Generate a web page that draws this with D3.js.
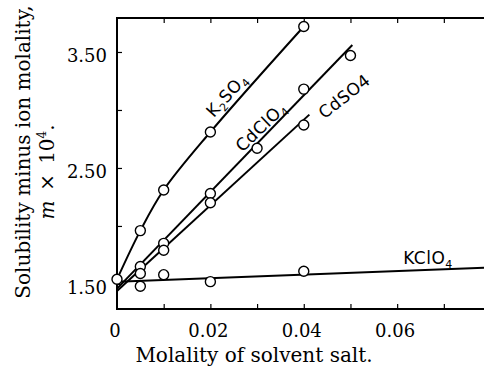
<!DOCTYPE html>
<html><head><meta charset="utf-8">
<script src="https://cdn.jsdelivr.net/npm/d3@7"></script>
<style>body{margin:0;background:#fff}svg{display:block}</style>
</head><body>
<svg id="c" width="484" height="367"></svg>
<script>
// Data
const xTicks = [0, 0.01, 0.02, 0.03, 0.04, 0.05, 0.06, 0.07];
const xTickLabels = ["0", "", "0.02", "", "0.04", "", "0.06", ""];
const yTicks = [1.5, 2.0, 2.5, 3.0, 3.5];
const yTickLabels = ["1.50", "", "2.50", "", "3.50"];

const k2so4X = [0, 0.005, 0.01, 0.02, 0.04];
const k2so4Y = [1.54, 1.96, 2.31, 2.81, 3.72];

const cdclo4X = [0.005, 0.01, 0.02, 0.03, 0.04, 0.05];
const cdclo4Y = [1.65, 1.85, 2.28, 2.67, 3.18, 3.47];
const cdclo4LineX = [0, 0.0504];
const cdclo4LineY = [1.46, 3.56];

const cdso4X = [0.005, 0.01, 0.02, 0.04];
const cdso4Y = [1.59, 1.79, 2.20, 2.87];
const cdso4LineX = [0, 0.0412];
const cdso4LineY = [1.44, 2.96];

const kclo4X = [0.005, 0.01, 0.02, 0.04];
const kclo4Y = [1.48, 1.58, 1.52, 1.61];
const kclo4LineX = [0, 0.0786];
const kclo4LineY = [1.52, 1.64];

const svg = d3.select("#c");
const x = d3.scaleLinear().domain([0, 0.0786]).range([117, 484]);
const y = d3.scaleLinear().domain([1.284, 3.793]).range([309, 18]);

const serif = "DejaVu Serif";
const sans = "DejaVu Sans";

// frame
const g = svg.append("g").attr("stroke", "#000").attr("stroke-width", 2).attr("fill", "none");
g.append("line").attr("x1", x(0) - 1).attr("x2", 484).attr("y1", y.range()[1]).attr("y2", y.range()[1]);
g.append("line").attr("x1", x(0) - 1).attr("x2", 484).attr("y1", y.range()[0]).attr("y2", y.range()[0]);
g.append("line").attr("x1", x(0)).attr("x2", x(0)).attr("y1", y.range()[0]).attr("y2", y.range()[1]);

// x ticks (inward, bottom and top)
const xb = svg.append("g").attr("transform", `translate(0,${y.range()[0]})`)
  .call(d3.axisBottom(x).tickValues(xTicks.slice(1)).tickSizeInner(-5).tickSizeOuter(0).tickFormat(""));
xb.select(".domain").remove();
xb.selectAll("line").attr("stroke-width", 1.2);
const xt = svg.append("g").attr("transform", `translate(0,${y.range()[1]})`)
  .call(d3.axisTop(x).tickValues(xTicks.slice(1)).tickSizeInner(-5).tickSizeOuter(0).tickFormat(""));
xt.select(".domain").remove();
xt.selectAll("line").attr("stroke-width", 1.2);

// x tick labels
svg.append("g").selectAll("text").data(xTicks.map((v, i) => [v, xTickLabels[i]]).filter(d => d[1]))
  .join("text").attr("x", d => x(d[0]) - 2).attr("y", 337)
  .attr("text-anchor", "middle").attr("font-family", serif).attr("font-size", 18)
  .text(d => d[1]);

// y ticks (inward)
const yl = svg.append("g").attr("transform", `translate(${x(0)},0)`)
  .call(d3.axisLeft(y).tickValues(yTicks).tickSizeInner(-5).tickSizeOuter(0).tickFormat(""));
yl.select(".domain").remove();
yl.selectAll("line").attr("stroke-width", 1.2);

svg.append("g").selectAll("text").data(yTicks.map((v, i) => [v, yTickLabels[i]]).filter(d => d[1]))
  .join("text").attr("x", 107).attr("y", d => y(d[0]) + 4).attr("dy", "0.35em")
  .attr("text-anchor", "end").attr("font-family", serif).attr("font-size", 18)
  .text(d => d[1]);

// axis titles
svg.append("text").attr("x", 254).attr("y", 362).attr("text-anchor", "middle")
  .attr("font-family", serif).attr("font-size", 20).text("Molality of solvent salt.");
svg.append("text").attr("transform", "translate(30,152) rotate(-90)").attr("text-anchor", "middle")
  .attr("font-family", serif).attr("font-size", 20).text("Solubility minus ion molality,");
const t2 = svg.append("text").attr("transform", "translate(54,172) rotate(-90)").attr("text-anchor", "middle")
  .attr("font-family", serif).attr("font-size", 20);
t2.append("tspan").attr("font-style", "italic").text("m");
t2.append("tspan").text("\u2002\u00D7\u200210");
t2.append("tspan").attr("font-size", 12).attr("dy", -8).text("4");
t2.append("tspan").attr("dy", 8).text(".");

// lines
const line = d3.line().x(d => x(d[0])).y(d => y(d[1]));
const zip = (a, b) => a.map((v, i) => [v, b[i]]);
const lg = svg.append("g").attr("fill", "none").attr("stroke", "#000").attr("stroke-width", 2);
lg.append("path").attr("d", line.curve(d3.curveCatmullRom)(zip(k2so4X, k2so4Y)));
line.curve(d3.curveLinear);
lg.append("path").attr("d", line(zip(cdclo4LineX, cdclo4LineY)));
lg.append("path").attr("d", line(zip(cdso4LineX, cdso4LineY)));
lg.append("path").attr("d", line(zip(kclo4LineX, kclo4LineY)));

// points
const pts = [].concat(zip(k2so4X, k2so4Y), zip(cdclo4X, cdclo4Y), zip(cdso4X, cdso4Y), zip(kclo4X, kclo4Y));
svg.append("g").selectAll("circle").data(pts).join("circle")
  .attr("cx", d => x(d[0])).attr("cy", d => y(d[1])).attr("r", 5)
  .attr("fill", "#fff").attr("stroke", "#000").attr("stroke-width", 1.4);

// series labels: parts = [text, isSubscript]
function label(px, py, ang, parts) {
  const t = svg.append("text").attr("transform", `translate(${px},${py}) rotate(${ang})`)
    .attr("text-anchor", "middle").attr("font-family", sans).attr("font-size", 17)
    .attr("letter-spacing", 0.5);
  let down = false;
  parts.forEach(p => {
    const s = t.append("tspan").text(p[0]);
    if (p[1]) { s.attr("font-size", 11); if (!down) { s.attr("dy", 4); down = true; } }
    else if (down) { s.attr("dy", -4); down = false; }
  });
}
label(231, 99, -48, [["K"], ["2", 1], ["SO"], ["4", 1]]);
label(265, 131, -44, [["CdClO"], ["4", 1]]);
label(348, 101, -38, [["CdSO4"]]);
label(428, 264, 0, [["KClO"], ["4", 1]]);
</script>
</body></html>
